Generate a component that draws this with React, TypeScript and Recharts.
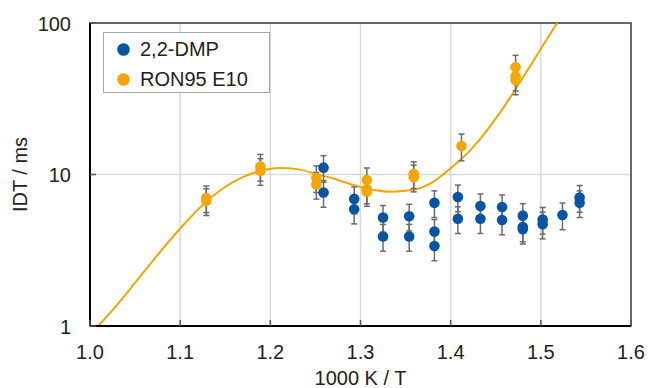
import React from 'react';
import {
  ComposedChart,
  Line,
  Scatter,
  XAxis,
  YAxis,
  CartesianGrid,
  ErrorBar,
  Legend,
  Label,
  ReferenceArea,
} from 'recharts';

// axis ticks
const X_TICKS = [1.0, 1.1, 1.2, 1.3, 1.4, 1.5, 1.6];
const Y_TICKS = [1, 10, 100];

// 2,2-DMP measurements (1000 K / T, IDT in ms)
const DMP_X = [
  1.259, 1.259, 1.293, 1.293, 1.325, 1.325, 1.354, 1.354, 1.382, 1.382, 1.382,
  1.408, 1.408, 1.433, 1.433, 1.457, 1.457, 1.48, 1.48, 1.48, 1.502, 1.502,
  1.524, 1.543, 1.543,
];
const DMP_IDT = [
  11.1, 7.6, 6.9, 5.9, 5.2, 3.9, 5.3, 3.9, 6.5, 4.2, 3.37,
  7.1, 5.1, 6.2, 5.1, 6.1, 5.0, 5.35, 4.5, 4.35, 5.05, 4.7,
  5.4, 7.05, 6.5,
];

// RON95 E10 measurements
const RON_X = [1.129, 1.129, 1.189, 1.189, 1.251, 1.251, 1.307, 1.307, 1.307, 1.359, 1.359, 1.412, 1.472, 1.472, 1.472];
const RON_IDT = [7.0, 6.7, 11.3, 10.6, 9.5, 8.6, 9.2, 8.0, 7.7, 10.1, 9.6, 15.4, 51, 44.5, 42];

// simulated curve for RON95 E10
const FIT_X = [
  1.009, 1.03, 1.05, 1.075, 1.1, 1.13, 1.15, 1.17, 1.19, 1.21, 1.23, 1.25, 1.27,
  1.29, 1.31, 1.335, 1.36, 1.38, 1.4, 1.42, 1.44, 1.46, 1.48, 1.5, 1.518,
];
const FIT_IDT = [
  1.0, 1.38, 1.93, 2.95, 4.4, 6.7, 8.3, 9.65, 10.6, 11.05, 10.85, 10.1, 9.4,
  8.6, 8.0, 7.7, 7.95, 8.9, 11.0, 14.1, 19.5, 28.5, 43.6, 67.6, 100,
];

// relative measurement uncertainty (±20 %)
const REL_ERR = 0.2;

const BLUE = '#0455a4';
const ORANGE = '#f7a600';
const FONT = '"Liberation Sans", Arial, sans-serif';

const toPoints = (xs: number[], ys: number[]) =>
  xs.map((x, i) => ({ x, idt: ys[i], err: ys[i] * REL_ERR }));

const dmpData = toPoints(DMP_X, DMP_IDT);
const ronData = toPoints(RON_X, RON_IDT);
const fitData = FIT_X.map((x, i) => ({ x, idt: FIT_IDT[i] }));

const XTick = (props: any) => {
  const { x, y, payload } = props;
  return (
    <g>
      <line x1={x} y1={y} x2={x} y2={y - 6} stroke="#555" strokeWidth={1.5} />
      <text x={x} y={y + 33} textAnchor="middle" fontSize={20} fontFamily={FONT} fill="#222">
        {Number(payload.value).toFixed(1)}
      </text>
    </g>
  );
};

const YTick = (props: any) => {
  const { x, y, payload } = props;
  return (
    <g>
      <line x1={x} y1={y} x2={x + 6} y2={y} stroke="#555" strokeWidth={1.5} />
      <text x={x - 19} y={y + 7.5} textAnchor="end" fontSize={20} fontFamily={FONT} fill="#222">
        {payload.value}
      </text>
    </g>
  );
};

const YTitle = (props: any) => {
  const { viewBox } = props;
  const cx = viewBox.x + 20;
  const cy = viewBox.y + viewBox.height / 2;
  return (
    <text
      x={cx}
      y={cy}
      transform={`rotate(-90 ${cx} ${cy})`}
      textAnchor="middle"
      dominantBaseline="central"
      fontSize={20}
      fontFamily={FONT}
      fill="#222"
    >
      IDT / ms
    </text>
  );
};

const XTitle = (props: any) => {
  const { viewBox } = props;
  return (
    <text
      x={viewBox.x + viewBox.width / 2}
      y={viewBox.y + 58.5}
      textAnchor="middle"
      fontSize={20}
      fontFamily={FONT}
      fill="#222"
    >
      1000 K / T
    </text>
  );
};

const Dot = (color: string) => (props: any) =>
  <circle cx={props.cx} cy={props.cy} r={5.3} fill={color} />;

const LegendBox = (props: any) => {
  const items = (props.payload || []).filter((p: any) => p.type !== 'none');
  return (
    <div
      style={{
        width: 167,
        height: 61,
        boxSizing: 'border-box',
        border: '1px solid #a6a6a6',
        background: '#fff',
        fontFamily: FONT,
        fontSize: 20,
        color: '#222',
        paddingTop: 1,
      }}
    >
      {items.map((it: any) => (
        <div key={it.value} style={{ height: 30, lineHeight: '30px', display: 'flex', alignItems: 'center' }}>
          <svg width={13} height={13} style={{ marginLeft: 13, marginRight: 10 }}>
            <circle cx={6.5} cy={6.5} r={6.3} fill={it.color} />
          </svg>
          <span>{it.value}</span>
        </div>
      ))}
    </div>
  );
};

export default function App() {
  return (
    <div style={{ position: 'absolute', left: 0, top: 0, background: '#fff' }}>
      <ComposedChart width={648} height={388} margin={{ top: 23, right: 17, bottom: 0, left: 0 }}>
        <CartesianGrid stroke="#d9d9d9" strokeWidth={1.5} />
        <XAxis
          type="number"
          dataKey="x"
          domain={[1.0, 1.6]}
          ticks={X_TICKS}
          allowDataOverflow
          height={62}
          tickSize={0}
          tickMargin={0}
          tick={XTick}
          axisLine={{ stroke: '#000', strokeWidth: 2 }}
        >
          <Label content={XTitle} />
        </XAxis>
        <YAxis
          type="number"
          dataKey="idt"
          scale="log"
          domain={[1, 100]}
          ticks={Y_TICKS}
          allowDataOverflow
          width={90}
          tickSize={0}
          tickMargin={0}
          tick={YTick}
          axisLine={{ stroke: '#000', strokeWidth: 2 }}
        >
          <Label content={YTitle} />
        </YAxis>
        <ReferenceArea x1={1.0} x2={1.6} y1={1} y2={100} fill="none" stroke="#404040" strokeWidth={1.5} />
        <Legend
          layout="vertical"
          align="center"
          verticalAlign="middle"
          wrapperStyle={{ left: 103, top: 32, width: 167 }}
          content={LegendBox}
        />
        <Line
          data={fitData}
          dataKey="idt"
          type="monotone"
          stroke={ORANGE}
          strokeWidth={2}
          dot={false}
          activeDot={false}
          legendType="none"
          isAnimationActive={false}
        />
        <Scatter name="2,2-DMP" data={dmpData} fill={BLUE} shape={Dot(BLUE)} isAnimationActive={false}>
          <ErrorBar dataKey="err" direction="y" width={3} stroke="#6b6b6b" strokeWidth={1.5} />
        </Scatter>
        <Scatter name="RON95 E10" data={ronData} fill={ORANGE} shape={Dot(ORANGE)} isAnimationActive={false}>
          <ErrorBar dataKey="err" direction="y" width={3} stroke="#6b6b6b" strokeWidth={1.5} />
        </Scatter>
      </ComposedChart>
    </div>
  );
}
